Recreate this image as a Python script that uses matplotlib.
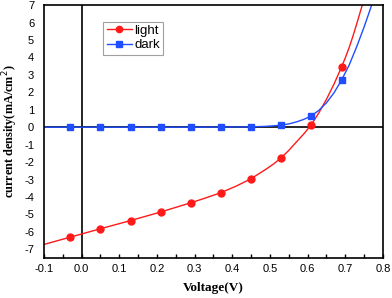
import matplotlib
matplotlib.use("Agg")
import matplotlib.pyplot as plt
from matplotlib.ticker import MultipleLocator

plt.rcParams["axes.unicode_minus"] = False

# measured points
v_pts = [-0.03, 0.05, 0.13, 0.21, 0.29, 0.37, 0.45, 0.53, 0.61, 0.69]
light_pts = [-6.30, -5.82, -5.35, -4.86, -4.33, -3.75, -2.95, -1.75, 0.15, 3.45]
dark_pts = [0.0, 0.0, 0.0, 0.0, 0.0, 0.0, 0.02, 0.12, 0.65, 2.70]

# fitted curves
light_curve_v = [-0.10, -0.03, 0.05, 0.13, 0.21, 0.29, 0.33, 0.37, 0.41, 0.45,
                 0.49, 0.51, 0.53, 0.55, 0.57, 0.59, 0.61, 0.63, 0.65, 0.67,
                 0.69, 0.70, 0.71, 0.72, 0.73, 0.745]
light_curve_j = [-6.72, -6.30, -5.82, -5.35, -4.86, -4.33, -4.05, -3.75, -3.38, -2.95,
                 -2.40, -2.10, -1.75, -1.33, -0.85, -0.38, 0.15, 0.83, 1.60, 2.47,
                 3.45, 3.98, 4.55, 5.20, 5.90, 7.0]
dark_curve_v = [-0.10, 0.29, 0.41, 0.45, 0.49, 0.51, 0.53, 0.55, 0.57, 0.59,
                0.61, 0.63, 0.65, 0.67, 0.69, 0.71, 0.73, 0.75, 0.77]
dark_curve_j = [0.0, 0.0, 0.01, 0.02, 0.05, 0.08, 0.12, 0.19, 0.30, 0.45,
                0.65, 0.97, 1.40, 1.97, 2.70, 3.55, 4.60, 5.75, 7.0]

RED = "#ff1a1a"
BLUE = "#1f4dff"

fig = plt.figure(figsize=(3.92, 2.98), dpi=100)
ax = fig.add_axes([0.112, 0.134, 0.865, 0.849])

ax.axhline(0, color="black", lw=1.2, zorder=1)
ax.axvline(0, color="black", lw=1.2, zorder=1)

ax.plot(light_curve_v, light_curve_j, color=RED, lw=1.0, zorder=2)
ax.plot(dark_curve_v, dark_curve_j, color=BLUE, lw=1.0, zorder=2)
ax.plot(v_pts, light_pts, "o", color=RED, ms=5, zorder=3)
ax.plot(v_pts, dark_pts, "s", color=BLUE, ms=4.5, zorder=3)

# legend proxies
ax.plot([], [], "-o", color=RED, lw=1.0, ms=4.5, label="light")
ax.plot([], [], "-s", color=BLUE, lw=1.0, ms=4, label="dark")
leg = ax.legend(loc="upper left", bbox_to_anchor=(0.175, 0.935), frameon=True,
                fancybox=False, edgecolor="#888888", handlelength=1.9,
                handletextpad=0.2, borderpad=0.25, labelspacing=0.15,
                borderaxespad=0.0,
                prop={"family": "Liberation Sans", "size": 9.5})
leg.get_frame().set_linewidth(0.8)

ax.set_xlim(-0.1, 0.8)
ax.set_ylim(-7.5, 7)
ax.xaxis.set_major_locator(MultipleLocator(0.1))
ax.xaxis.set_minor_locator(MultipleLocator(0.05))
ax.yaxis.set_major_locator(MultipleLocator(1))
ax.tick_params(axis="x", which="both", direction="in", length=3, width=1,
               top=False, labelsize=8, pad=4)
ax.tick_params(axis="y", which="both", length=0, labelsize=8, pad=7)
for lab in ax.get_xticklabels() + ax.get_yticklabels():
    lab.set_family("Liberation Sans")
ax.set_xticklabels([f"{t:.1f}" for t in ax.get_xticks()])

for sp in ax.spines.values():
    sp.set_linewidth(1.2)

ax.set_xlabel("Voltage(V)", family="Liberation Serif", fontweight="bold", fontsize=9.5, labelpad=6)
ax.set_ylabel("current density(mA/cm$^2$)", family="Liberation Serif", fontweight="bold",
              fontsize=8.8, labelpad=3)

fig.savefig("out.png", dpi=100)
